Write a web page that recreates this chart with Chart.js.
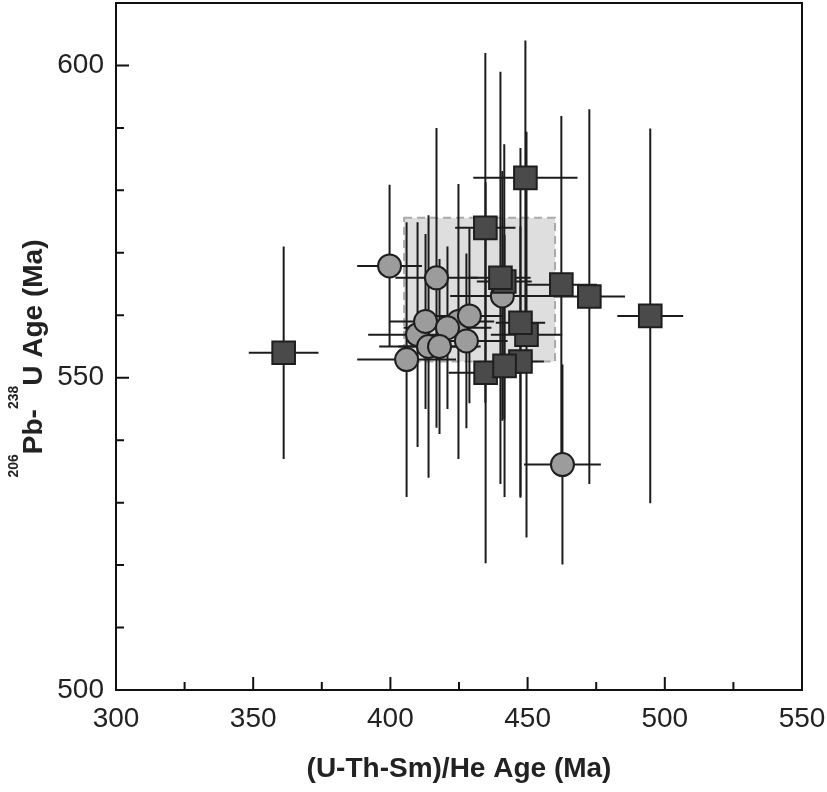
<!DOCTYPE html>
<html>
<head>
<meta charset="utf-8">
<script src="https://cdn.jsdelivr.net/npm/chart.js@4.4.0/dist/chart.umd.min.js"></script>
<style>
    html, body { margin: 0; padding: 0; background: #fff; }
    canvas { display: block; }
</style>
</head>
<body>
<canvas id="ageChart" width="827" height="792"></canvas>
<script>
// =========================
// DATA (Ma)
// =========================
// dark squares
const squareX    = [361.1, 449.2, 434.6, 441.5, 440.1, 462.3, 472.5, 494.7, 449.6, 447.4, 434.7, 447.4, 441.6];
const squareY    = [554.0, 582.0, 574.0, 565.4, 566.0, 564.9, 563.0, 559.9, 556.9, 558.8, 550.8, 552.6, 551.9];
const squareXErr = [12.7, 19, 11, 10, 11, 13, 13, 12, 13, 9, 13.5, 8.5, 10];
const squareYErr = [17, 22, 28, 22, 33, 27, 30, 30, 32.5, 28, 30.5, 21.6, 21];

// grey circles
const circleX    = [405.9, 409.9, 424.8, 413.9, 399.7, 416.8, 440.8, 428.8, 412.8, 420.8, 427.7, 417.9, 462.7];
const circleY    = [552.9, 556.9, 559.0, 555.0, 567.9, 566.0, 563.1, 559.9, 559.0, 558.0, 555.9, 555.0, 536.1];
const circleXErr = [18, 18, 13, 18, 11.8, 15, 19, 12, 13, 16, 15, 15, 14];
const circleYErr = [22, 18, 22, 21, 13, 24, 20, 14, 14, 13, 14, 14, 16];

// shaded reference box
const boxX = [405, 460];
const boxY = [552.6, 575.6];

// axes
const xRange = [300, 550];
const yRange = [500, 610];
const xStep = 25, xLabelStep = 50;
const yStep = 10, yLabelStep = 50;

const FONT = "'Liberation Sans', Arial, Helvetica, sans-serif";
Chart.defaults.font.family = FONT;
Chart.defaults.color = "#222";

// =========================
// HELPERS
// =========================
const toPoints = (xs, ys) => xs.map((v, i) => ({ x: v, y: ys[i] }));

const drawErrorBars = (ctx, xs, ys, xe, ye, sx, sy) => {
    xs.forEach((v, i) => {
        const px = sx.getPixelForValue(v);
        const py = sy.getPixelForValue(ys[i]);
        ctx.beginPath();
        ctx.moveTo(sx.getPixelForValue(v - xe[i]), py);
        ctx.lineTo(sx.getPixelForValue(v + xe[i]), py);
        ctx.moveTo(px, sy.getPixelForValue(ys[i] - ye[i]));
        ctx.lineTo(px, sy.getPixelForValue(ys[i] + ye[i]));
        ctx.stroke();
    });
};

// box + error bars under the markers
const errorBarPlugin = {
    id: "errorBars",
    beforeDatasetsDraw(chart) {
        const { ctx, chartArea: a, scales: { x, y } } = chart;
        ctx.save();
        ctx.beginPath();
        ctx.rect(a.left, a.top, a.width, a.height);
        ctx.clip();

        const bx0 = x.getPixelForValue(boxX[0]), bx1 = x.getPixelForValue(boxX[1]);
        const by0 = y.getPixelForValue(boxY[1]), by1 = y.getPixelForValue(boxY[0]);
        ctx.fillStyle = "#dedede";
        ctx.fillRect(bx0, by0, bx1 - bx0, by1 - by0);
        ctx.setLineDash([8, 5]);
        ctx.strokeStyle = "#a9a9a9";
        ctx.lineWidth = 2;
        ctx.strokeRect(bx0, by0, bx1 - bx0, by1 - by0);
        ctx.setLineDash([]);

        ctx.strokeStyle = "#1c1c1c";
        ctx.lineWidth = 2;
        drawErrorBars(ctx, circleX, circleY, circleXErr, circleYErr, x, y);
        drawErrorBars(ctx, squareX, squareY, squareXErr, squareYErr, x, y);
        ctx.restore();
    }
};

// full frame + inward tick marks
const framePlugin = {
    id: "frame",
    afterDatasetsDraw(chart) {
        const { ctx, chartArea: a, scales: { x, y } } = chart;
        ctx.save();
        ctx.strokeStyle = "#111";
        ctx.lineWidth = 2;
        ctx.strokeRect(a.left, a.top, a.width, a.height);
        ctx.beginPath();
        x.ticks.forEach(t => {
            if (t.value <= xRange[0] || t.value >= xRange[1]) return;
            const px = x.getPixelForValue(t.value);
            const len = t.value % xLabelStep === 0 ? 13 : 8;
            ctx.moveTo(px, a.bottom);
            ctx.lineTo(px, a.bottom - len);
        });
        y.ticks.forEach(t => {
            if (t.value <= yRange[0] || t.value >= yRange[1]) return;
            const py = y.getPixelForValue(t.value);
            const len = t.value % yLabelStep === 0 ? 13 : 8;
            ctx.moveTo(a.left, py);
            ctx.lineTo(a.left + len, py);
        });
        ctx.stroke();
        ctx.restore();
    }
};

// y title with superscript isotopes
const yTitlePlugin = {
    id: "yTitle",
    afterDraw(chart) {
        const { ctx, chartArea: a } = chart;
        const parts = [
            { t: "206", sup: true },
            { t: "Pb-", sup: false },
            { t: "238", sup: true },
            { t: "U Age (Ma)", sup: false }
        ];
        const big = `bold 28px ${FONT}`, small = `bold 14px ${FONT}`;
        ctx.save();
        let total = 0;
        parts.forEach(p => {
            ctx.font = p.sup ? small : big;
            p.w = ctx.measureText(p.t).width;
            total += p.w;
        });
        ctx.translate(42, (a.top + a.bottom) / 2 + 12);
        ctx.rotate(-Math.PI / 2);
        ctx.fillStyle = "#222";
        ctx.textBaseline = "alphabetic";
        let cx = -total / 2;
        parts.forEach(p => {
            ctx.font = p.sup ? small : big;
            ctx.fillText(p.t, cx, p.sup ? -24 : 0);
            cx += p.w;
        });
        ctx.restore();
    }
};

// =========================
// CHART
// =========================
const tickFont = { size: 28, family: FONT };

new Chart(document.getElementById("ageChart"), {
    type: "scatter",
    data: {
        datasets: [
            {
                label: "squares",
                data: toPoints(squareX, squareY),
                pointStyle: "rect",
                pointRadius: 16,
                backgroundColor: "#4a4a4a",
                borderColor: "#1e1e1e",
                borderWidth: 2,
                order: 0
            },
            {
                label: "circles",
                data: toPoints(circleX, circleY),
                pointStyle: "circle",
                pointRadius: 11.5,
                backgroundColor: "#9c9c9c",
                borderColor: "#1e1e1e",
                borderWidth: 2,
                order: 1
            }
        ]
    },
    options: {
        responsive: false,
        animation: false,
        events: [],
        devicePixelRatio: 1,
        layout: { autoPadding: false, padding: { top: 3, right: 25, left: 0, bottom: 0 } },
        plugins: {
            legend: { display: false },
            tooltip: { enabled: false }
        },
        scales: {
            x: {
                type: "linear",
                min: xRange[0],
                max: xRange[1],
                grid: { display: false, drawTicks: false },
                border: { display: false },
                ticks: {
                    stepSize: xStep,
                    autoSkip: false,
                    maxRotation: 0,
                    padding: 12,
                    font: tickFont,
                    color: "#222",
                    callback: v => (v % xLabelStep === 0 ? v : "")
                },
                title: {
                    display: true,
                    text: "(U-Th-Sm)/He Age (Ma)",
                    font: { size: 28, weight: "bold", family: FONT },
                    color: "#222",
                    padding: { top: 0, bottom: 6 }
                },
                afterFit: s => {
                    s.height = 102;
                    s.paddingLeft = 0;
                    s.paddingRight = 0;
                }
            },
            y: {
                type: "linear",
                min: yRange[0],
                max: yRange[1],
                grid: { display: false, drawTicks: false },
                border: { display: false },
                ticks: {
                    stepSize: yStep,
                    autoSkip: false,
                    padding: 12,
                    font: tickFont,
                    color: "#222",
                    callback: v => (v % yLabelStep === 0 ? v : "")
                },
                afterFit: s => {
                    s.width = 116;
                    s.paddingTop = 0;
                    s.paddingBottom = 0;
                }
            }
        }
    },
    plugins: [errorBarPlugin, framePlugin, yTitlePlugin]
});
</script>
</body>
</html>
